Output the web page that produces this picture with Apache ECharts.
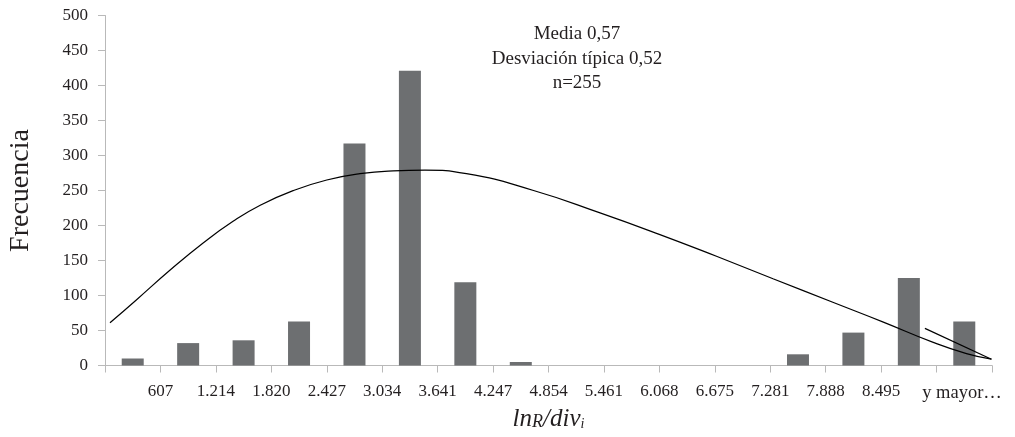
<!DOCTYPE html>
<html>
<head>
<meta charset="utf-8">
<script src="https://cdn.jsdelivr.net/npm/echarts@6/dist/echarts.min.js"></script>
<style>
  html, body { margin: 0; padding: 0; background: #ffffff; }
  #chart { width: 1015px; height: 437px; }
</style>
</head>
<body>
<div id="chart"></div>
<script>
// ---- data ----
const tickLabels = ['', '607', '1.214', '1.820', '2.427', '3.034', '3.641', '4.247', '4.854',
  '5.461', '6.068', '6.675', '7.281', '7.888', '8.495', '', 'y mayor…'];
const binCategories = ['b1','b2','b3','b4','b5','b6','b7','b8','b9','b10','b11','b12','b13','b14','b15','b16'];
const frequencies = [10, 32, 36, 63, 317, 421, 119, 5, 0, 0, 0, 0, 16, 47, 125, 63];

// fitted curve (x in bin units from the left edge of the axis, y in frequency)
const curveX = [0.09, 0.57, 1.17, 1.77, 2.31, 2.80, 3.40, 4.00, 4.60, 5.20, 5.77, 6.52, 7.73, 8.93,
  10.01, 11.03, 12.05, 13.14, 14.04, 14.94, 15.54, 15.99];
const curveY = [61, 94, 136, 175, 206, 229, 250, 265, 274, 278, 279, 274, 250, 218,
  187, 156, 124, 90, 62, 33, 17, 9];
const returnX = [15.99, 14.79];
const returnY = [9, 53];

const yMin = 0, yMax = 500, yStep = 50;
const statsLines = ['Media 0,57', 'Desviación típica 0,52', 'n=255'];
const yTitle = 'Frecuencia';

// ---- chart ----
const FONT = "'Liberation Serif', 'DejaVu Serif', serif";
const TXT = '#231f20';
const AXIS = '#b9b9b9';

const chart = echarts.init(document.getElementById('chart'), null, { renderer: 'canvas' });
const lastIdx = tickLabels.length - 1;

chart.setOption({
  animation: false,
  backgroundColor: '#ffffff',
  grid: { left: 105, right: 23, top: 15.5, bottom: 71.5, containLabel: false, outerBoundsMode: 'none' },
  xAxis: [
    {
      type: 'category',
      data: binCategories,
      boundaryGap: true,
      axisLine: { show: true, lineStyle: { color: AXIS, width: 1 } },
      axisTick: { show: true, length: 7, alignWithLabel: false, lineStyle: { color: AXIS } },
      axisLabel: { show: false },
      splitLine: { show: false },
      name: '{a|ln}{b|R}{a|/div}{c|i}',
      nameLocation: 'middle',
      nameGap: 41,
      nameTextStyle: {
        rich: {
          a: { fontFamily: FONT, fontStyle: 'italic', fontSize: 25, color: TXT, lineHeight: 25, verticalAlign: 'bottom' },
          b: { fontFamily: FONT, fontStyle: 'italic', fontSize: 18, color: TXT, lineHeight: 25, verticalAlign: 'bottom' },
          c: { fontFamily: FONT, fontStyle: 'italic', fontSize: 14, color: TXT, lineHeight: 4, verticalAlign: 'bottom' }
        }
      }
    },
    {
      type: 'category',
      data: tickLabels,
      boundaryGap: false,
      position: 'bottom',
      axisLine: { show: false },
      axisTick: { show: false },
      splitLine: { show: false },
      axisLabel: {
        interval: 0,
        margin: 18,
        fontFamily: FONT,
        fontSize: 17,
        color: TXT,
        formatter: function (v, i) {
          return i === lastIdx ? '{s|' + v + '}' : v;
        },
        rich: {
          s: { fontFamily: FONT, fontSize: 18.5, color: TXT, padding: [0, 60, 0, 0] }
        }
      }
    },
    {
      type: 'value',
      min: 0,
      max: binCategories.length,
      show: false,
      splitLine: { show: false }
    }
  ],
  yAxis: {
    type: 'value',
    min: yMin,
    max: yMax,
    interval: yStep,
    axisLine: { show: true, lineStyle: { color: AXIS, width: 1 } },
    axisTick: { show: true, length: 7, lineStyle: { color: AXIS } },
    splitLine: { show: false },
    axisLabel: { margin: 17, fontFamily: FONT, fontSize: 17, color: TXT },
    name: yTitle,
    nameLocation: 'middle',
    nameGap: 70,
    nameTextStyle: { fontFamily: FONT, fontSize: 28, color: TXT }
  },
  series: [
    {
      type: 'bar',
      xAxisIndex: 0,
      data: frequencies,
      barWidth: 22,
      itemStyle: { color: '#6d6f71' },
      z: 2
    },
    {
      type: 'line',
      xAxisIndex: 2,
      data: curveX.map((x, i) => [x, curveY[i]]),
      smooth: 0.5,
      symbol: 'none',
      clip: false,
      lineStyle: { color: '#000000', width: 1.2 },
      z: 3
    },
    {
      type: 'line',
      xAxisIndex: 2,
      data: returnX.map((x, i) => [x, returnY[i]]),
      symbol: 'none',
      clip: false,
      lineStyle: { color: '#000000', width: 1.2 },
      z: 3
    }
  ],
  graphic: [
    {
      type: 'text',
      x: 577,
      y: 22,
      style: {
        text: statsLines.join('\n'),
        fontFamily: FONT,
        fontSize: 19,
        lineHeight: 24.5,
        fill: TXT,
        textAlign: 'center',
        textVerticalAlign: 'top'
      }
    }
  ]
});
</script>
</body>
</html>
